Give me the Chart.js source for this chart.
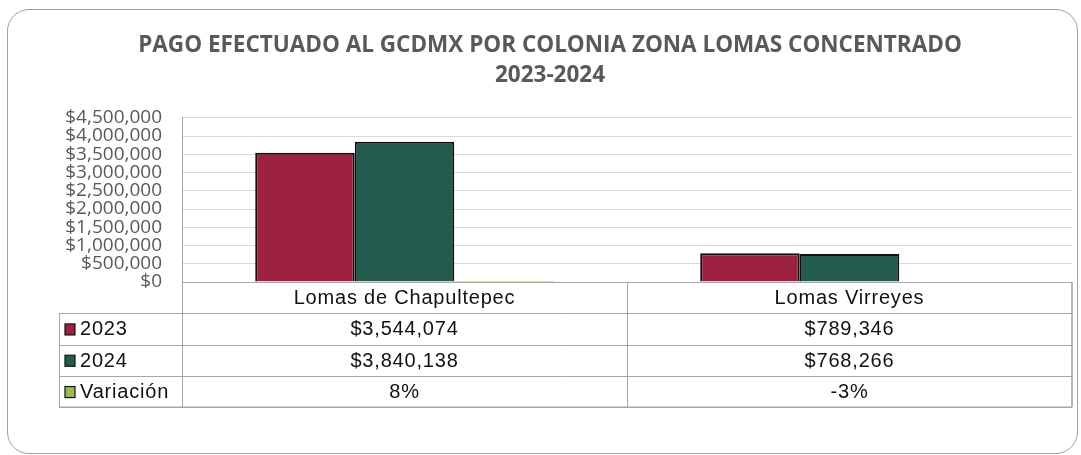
<!DOCTYPE html>
<html lang="es">
<head>
<meta charset="UTF-8">
<title>Pago efectuado al GCDMX por colonia</title>
<script src="https://cdn.jsdelivr.net/npm/chart.js"></script>
<style>
    html, body {
        margin: 0;
        padding: 0;
        background: #fff;
    }

    .marco {
        position: absolute;
        left: 7px;
        top: 9px;
        width: 1069px;
        height: 443px;
        border: 1.5px solid #a0a0a0;
        border-radius: 22px;
    }

    #graficaPago {
        position: absolute;
        left: 0;
        top: 0;
    }
</style>
</head>
<body>

<div class="marco"></div>
<canvas id="graficaPago" width="1081" height="455"></canvas>

<script>
    const colonias = ['Lomas de Chapultepec', 'Lomas Virreyes'];
    const pago2023 = [3544074, 789346];
    const pago2024 = [3840138, 768266];
    const variacion = [8, -3];   // porcentaje, como aparece en la tabla
    const ticksY = [0, 500000, 1000000, 1500000, 2000000, 2500000, 3000000, 3500000, 4000000, 4500000];

    const color2023 = '#9d2242';
    const color2024 = '#235b4e';
    const colorVariacion = '#9bbb59';

    function dinero(v) {
        return '$' + v.toLocaleString('en-US');
    }

    // tabla de datos debajo del eje, como en Excel
    const tablaDatos = {
        id: 'tablaDatos',
        afterDraw(chart) {
            const ctx = chart.ctx;
            const area = chart.chartArea;
            const xScale = chart.scales.x;
            const n = colonias.length;
            const colW = (area.right - area.left) / n;
            const rowH = 31.3;
            const top = area.bottom;
            const izq = 59;
            const filas = [
                { nombre: '2023', color: color2023, valores: pago2023.map(dinero) },
                { nombre: '2024', color: color2024, valores: pago2024.map(dinero) },
                { nombre: 'Variación', color: colorVariacion, valores: variacion.map(v => v + '%') }
            ];
            const fondo = top + rowH * (filas.length + 1);
            const px = v => Math.round(v) + 0.5;

            ctx.save();
            ctx.strokeStyle = '#a6a6a6';
            ctx.lineWidth = 1;
            ctx.beginPath();
            // linea superior del encabezado
            ctx.moveTo(area.left, px(top));
            ctx.lineTo(area.right, px(top));
            // lineas de cada fila
            for (let i = 1; i <= filas.length; i++) {
                const y = px(top + rowH * i);
                ctx.moveTo(izq, y);
                ctx.lineTo(area.right, y);
            }
            // verticales
            ctx.moveTo(px(area.left), area.top);
            ctx.lineTo(px(area.left), fondo);
            ctx.moveTo(px(izq), top + rowH);
            ctx.lineTo(px(izq), fondo);
            for (let i = 1; i < n; i++) {
                const x = px(area.left + colW * i);
                ctx.moveTo(x, top);
                ctx.lineTo(x, fondo);
            }
            ctx.stroke();

            // borde exterior un poco mas grueso
            ctx.lineWidth = 1.6;
            ctx.beginPath();
            ctx.moveTo(area.right, top);
            ctx.lineTo(area.right, fondo);
            ctx.moveTo(izq, fondo);
            ctx.lineTo(area.right, fondo);
            ctx.stroke();

            ctx.fillStyle = '#111';
            ctx.font = '20px "Liberation Sans", Arial, sans-serif';
            ctx.letterSpacing = '0.8px';
            ctx.textBaseline = 'middle';
            ctx.textAlign = 'center';

            colonias.forEach((c, i) => {
                ctx.fillText(c, xScale.getPixelForValue(i), top + rowH / 2 + 1);
            });

            filas.forEach((f, r) => {
                const yc = top + rowH * (r + 1) + rowH / 2 + 1;
                // clave de color
                ctx.fillStyle = f.color;
                ctx.fillRect(65, yc - 6, 10, 11);
                ctx.strokeStyle = '#111';
                ctx.lineWidth = 1.2;
                ctx.strokeRect(65, yc - 6, 10, 11);

                ctx.fillStyle = '#111';
                ctx.textAlign = 'left';
                ctx.fillText(f.nombre, 80, yc);
                ctx.textAlign = 'center';
                f.valores.forEach((v, i) => {
                    ctx.fillText(v, xScale.getPixelForValue(i), yc);
                });
            });
            ctx.restore();
        }
    };

    const ctx = document.getElementById('graficaPago').getContext('2d');
    const grafica = new Chart(ctx, {
        type: 'bar',
        data: {
            labels: colonias,
            datasets: [
                {
                    label: '2023',
                    data: pago2023,
                    backgroundColor: color2023,
                    borderColor: '#111',
                    borderWidth: 2
                },
                {
                    label: '2024',
                    data: pago2024,
                    backgroundColor: color2024,
                    borderColor: '#111',
                    borderWidth: 2
                },
                {
                    // la serie de variacion va en la misma grafica (valores minimos, no se ven)
                    label: 'Variación',
                    data: variacion,
                    backgroundColor: colorVariacion,
                    borderWidth: 0
                }
            ]
        },
        options: {
            responsive: false,
            animation: false,
            categoryPercentage: 0.671,
            barPercentage: 1.0,
            layout: {
                padding: { left: 28, right: 9, top: 0, bottom: 173 }
            },
            plugins: {
                legend: { display: false },
                tooltip: { enabled: false },
                title: {
                    display: true,
                    text: ['PAGO EFECTUADO AL GCDMX POR COLONIA ZONA LOMAS CONCENTRADO', '2023-2024'],
                    color: '#595959',
                    font: {
                        family: '"Open Sans"',
                        size: 22.5,
                        weight: 'bold',
                        lineHeight: 1.35
                    },
                    padding: { top: 30, bottom: 27 }
                }
            },
            scales: {
                x: {
                    display: false
                },
                y: {
                    min: 0,
                    max: 4500000,
                    afterBuildTicks(scale) {
                        scale.ticks = ticksY.map(v => ({ value: v }));
                    },
                    afterFit(scale) {
                        scale.width = 154;
                    },
                    ticks: {
                        autoSkip: false,
                        padding: 20,
                        color: '#595959',
                        font: {
                            family: '"Open Sans"',
                            size: 19
                        },
                        callback: v => dinero(v)
                    },
                    grid: {
                        color: '#d9d9d9',
                        drawTicks: false
                    },
                    border: {
                        color: '#a6a6a6'
                    }
                }
            }
        },
        plugins: [tablaDatos]
    });
</script>

</body>
</html>
